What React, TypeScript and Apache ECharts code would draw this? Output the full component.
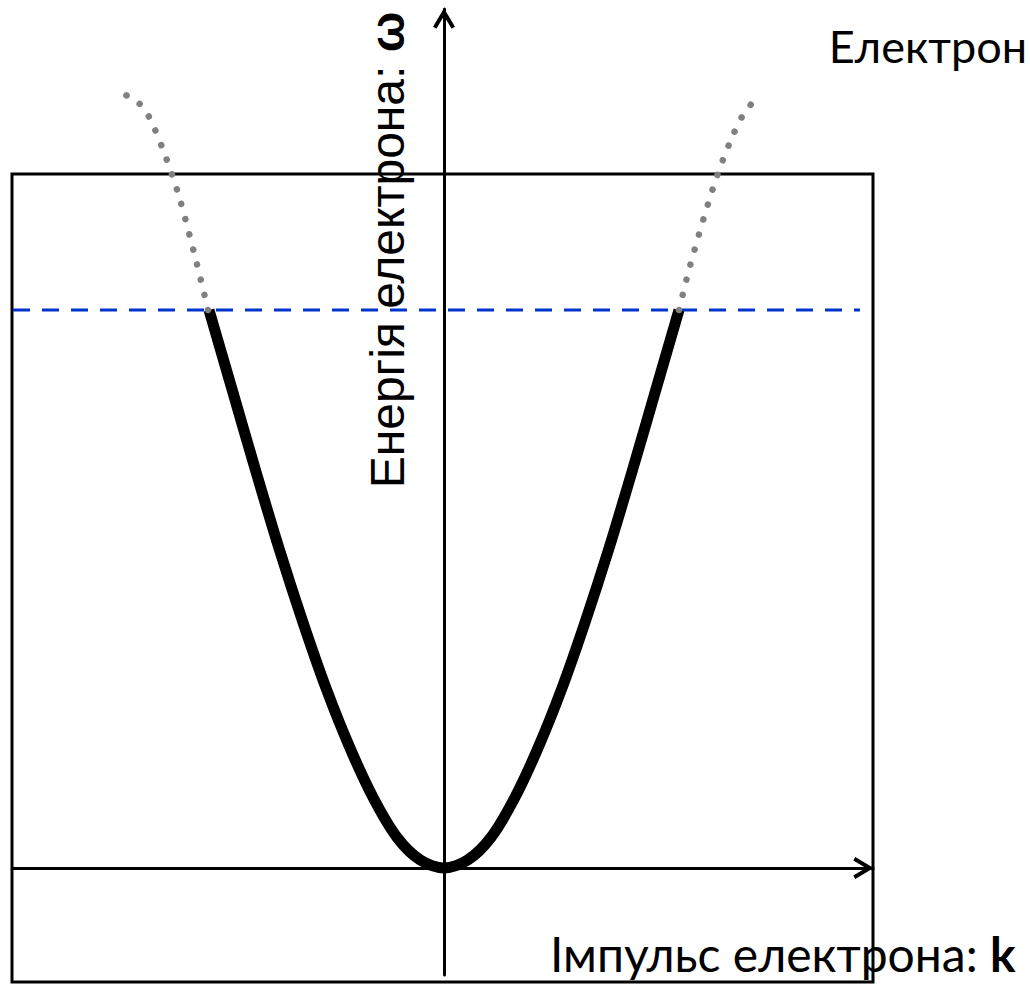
import React, { useEffect, useRef } from "react";
import * as echarts from "echarts";

// Band E(k) below the Fermi level (solid): [k, ω]
const solidBand: [number, number][] = [
  [-1.0, 1.0], [-0.9, 0.855], [-0.8, 0.71], [-0.7, 0.57], [-0.6, 0.44],
  [-0.5, 0.32], [-0.4, 0.215], [-0.3, 0.125], [-0.2, 0.055], [-0.1, 0.014],
  [0, 0],
  [0.1, 0.014], [0.2, 0.055], [0.3, 0.125], [0.4, 0.215], [0.5, 0.32],
  [0.6, 0.44], [0.7, 0.57], [0.8, 0.71], [0.9, 0.855], [1.0, 1.0],
];

// Continuation above the Fermi level (dotted grey)
const leftTail: [number, number][] = [
  [-1.004, 1.0], [-1.06, 1.097], [-1.132, 1.21], [-1.2, 1.292],
  [-1.255, 1.346], [-1.294, 1.369], [-1.353, 1.385],
];
const rightTail: [number, number][] = [
  [1.0, 1.0], [1.047, 1.079], [1.145, 1.219], [1.217, 1.301],
  [1.277, 1.353], [1.323, 1.376],
];

// Fermi level (blue dashed)
const fermiLevel = 1.0;
const fermiSpan: [number, number] = [-1.834, 1.77];

// Axis ranges
const kRange: [number, number] = [-1.834, 1.8255];
const wRange: [number, number] = [-0.19176, 1.5394];

const topTitle = "Електрон";
const yTitle = "Енергія електрона: ";
const ySymbol = "ω";
const xTitle = "Імпульс електрона: ";
const xSymbol = "k";

const arrowPath = "path://M11,0 L22,18.5 L18.6,20.5 L11,7.8 L3.4,20.5 L0,18.5 Z";

export default function App() {
  const ref = useRef<HTMLDivElement>(null);

  useEffect(() => {
    if (!ref.current) return;
    const chart = echarts.init(ref.current, undefined, { renderer: "svg" });

    const axisLine = {
      show: true,
      onZero: true,
      symbol: ["none", arrowPath],
      symbolSize: [22, 20.5],
      symbolOffset: [0, -9.5],
      lineStyle: { color: "#000", width: 3 },
    };

    chart.setOption({
      animation: false,
      backgroundColor: "#fff",
      grid: { left: 13, right: 157, top: 9, bottom: 9, containLabel: false },
      xAxis: {
        type: "value",
        min: kRange[0],
        max: kRange[1],
        axisLine,
        axisTick: { show: false },
        axisLabel: { show: false },
        splitLine: { show: false },
      },
      yAxis: {
        type: "value",
        min: wRange[0],
        max: wRange[1],
        axisLine,
        axisTick: { show: false },
        axisLabel: { show: false },
        splitLine: { show: false },
      },
      graphic: [
        {
          type: "rect",
          z: -10,
          shape: { x: 12, y: 174, width: 861, height: 808 },
          style: { fill: "none", stroke: "#000", lineWidth: 3 },
          silent: true,
        },
        {
          type: "text",
          z: 100,
          x: 1027,
          y: 46,
          style: {
            text: topTitle,
            fontFamily: "Lato",
            fontSize: 45,
            fill: "#000",
            align: "right",
            verticalAlign: "middle",
            textAlign: "right",
            textVerticalAlign: "middle",
          },
        },
        {
          type: "text",
          z: 100,
          x: 387,
          y: 250,
          rotation: Math.PI / 2,
          style: {
            text: yTitle + "{b|" + ySymbol + "}",
            fontFamily: "Liberation Sans",
            fontSize: 48,
            fill: "#000",
            align: "center",
            verticalAlign: "middle",
            textAlign: "center",
            textVerticalAlign: "middle",
            rich: {
              b: { fontFamily: "Liberation Sans", fontSize: 48, fontWeight: "bold", fill: "#000" },
            },
          },
        },
        {
          type: "text",
          z: 100,
          x: 550,
          y: 953,
          style: {
            text: xTitle + "{b|" + xSymbol + "}",
            fontFamily: "Lato",
            fontSize: 48,
            fill: "#000",
            align: "left",
            verticalAlign: "middle",
            textAlign: "left",
            textVerticalAlign: "middle",
            rich: {
              b: { fontFamily: "Lato", fontSize: 48, fontWeight: "bold", fill: "#000" },
            },
          },
        },
      ],
      series: [
        {
          type: "line",
          data: [
            [fermiSpan[0], fermiLevel],
            [fermiSpan[1], fermiLevel],
          ],
          showSymbol: false,
          symbol: "none",
          silent: true,
          z: 2,
          lineStyle: { color: "#0033cc", width: 3, type: [17, 12] },
        },
        {
          type: "line",
          data: solidBand,
          showSymbol: false,
          symbol: "none",
          smooth: 0.3,
          silent: true,
          z: 3,
          lineStyle: { color: "#000", width: 11, cap: "butt", join: "round" },
        },
        {
          type: "line",
          data: leftTail,
          showSymbol: false,
          symbol: "none",
          smooth: 0.3,
          silent: true,
          z: 4,
          lineStyle: { color: "#808080", width: 6.5, type: [0.1, 15.5], cap: "round" },
        },
        {
          type: "line",
          data: rightTail,
          showSymbol: false,
          symbol: "none",
          smooth: 0.3,
          silent: true,
          z: 4,
          lineStyle: { color: "#808080", width: 6.5, type: [0.1, 15.5], cap: "round" },
        },
      ],
    });

    return () => chart.dispose();
  }, []);

  return (
    <div
      ref={ref}
      style={{ position: "fixed", left: 0, top: 0, width: 1030, height: 984, background: "#fff" }}
    />
  );
}
